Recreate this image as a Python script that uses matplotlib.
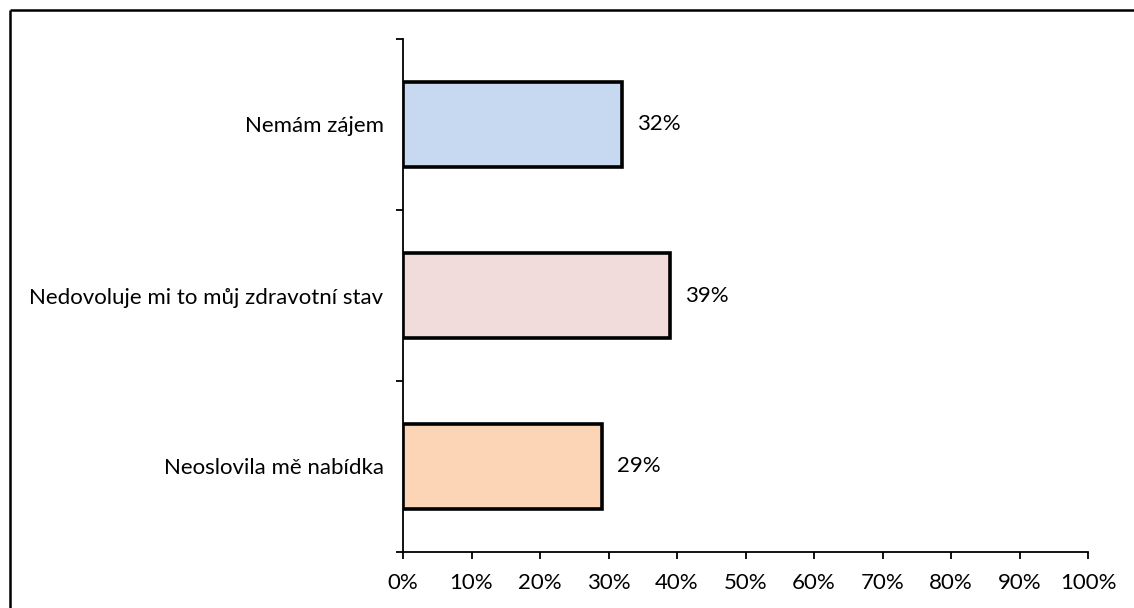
import matplotlib
matplotlib.use("Agg")
import matplotlib.pyplot as plt
from matplotlib.lines import Line2D
from matplotlib.ticker import FixedLocator, PercentFormatter

# categories bottom -> top, shares in percent
categories = ["Neoslovila mě nabídka", "Nedovoluje mi to můj zdravotní stav", "Nemám zájem"]
values = [29, 39, 32]
colors = ["#FBD5B5", "#F2DCDB", "#C6D9F0"]
x_ticks = list(range(0, 101, 10))

plt.rcParams["font.family"] = ["Lato", "DejaVu Sans"]
plt.rcParams["font.size"] = 16

fig = plt.figure(figsize=(11.34, 6.08), dpi=100)
ax = fig.add_axes([403 / 1134, 1 - 552 / 608, (1088 - 403) / 1134, (552 - 39) / 608])

ypos = list(range(len(categories)))
ax.barh(ypos, values, height=0.5, color=colors, edgecolor="black", linewidth=2.6)

for y, v in zip(ypos, values):
    ax.annotate(f"{v}%", (v, y), xytext=(11, 0), textcoords="offset points",
                va="center", ha="left")

ax.set_xlim(0, 100)
ax.set_ylim(-0.5, len(categories) - 0.5)
ax.set_xticks(x_ticks)
ax.xaxis.set_major_formatter(PercentFormatter(decimals=0))

# category labels centred, tick marks on the boundaries
ax.set_yticks(ypos)
ax.set_yticklabels(categories)
ax.yaxis.set_minor_locator(FixedLocator([i - 0.5 for i in range(len(categories) + 1)]))
ax.tick_params(axis="y", which="major", length=0, pad=14)
ax.tick_params(axis="y", which="minor", length=5, width=1.3, direction="out")
ax.tick_params(axis="x", length=5, width=1.3, direction="out", pad=10)

for s in ("top", "right"):
    ax.spines[s].set_visible(False)
for s in ("left", "bottom"):
    ax.spines[s].set_linewidth(1.3)

# outer frame (top and left edges only)
fig.add_artist(Line2D([9.5 / 1134, 1], [1 - 9.5 / 608] * 2, color="black", lw=1.8,
                      transform=fig.transFigure, solid_capstyle="butt"))
fig.add_artist(Line2D([9.5 / 1134] * 2, [0, 1 - 9.5 / 608], color="black", lw=1.8,
                      transform=fig.transFigure, solid_capstyle="butt"))

fig.savefig("out.png", dpi=100)
